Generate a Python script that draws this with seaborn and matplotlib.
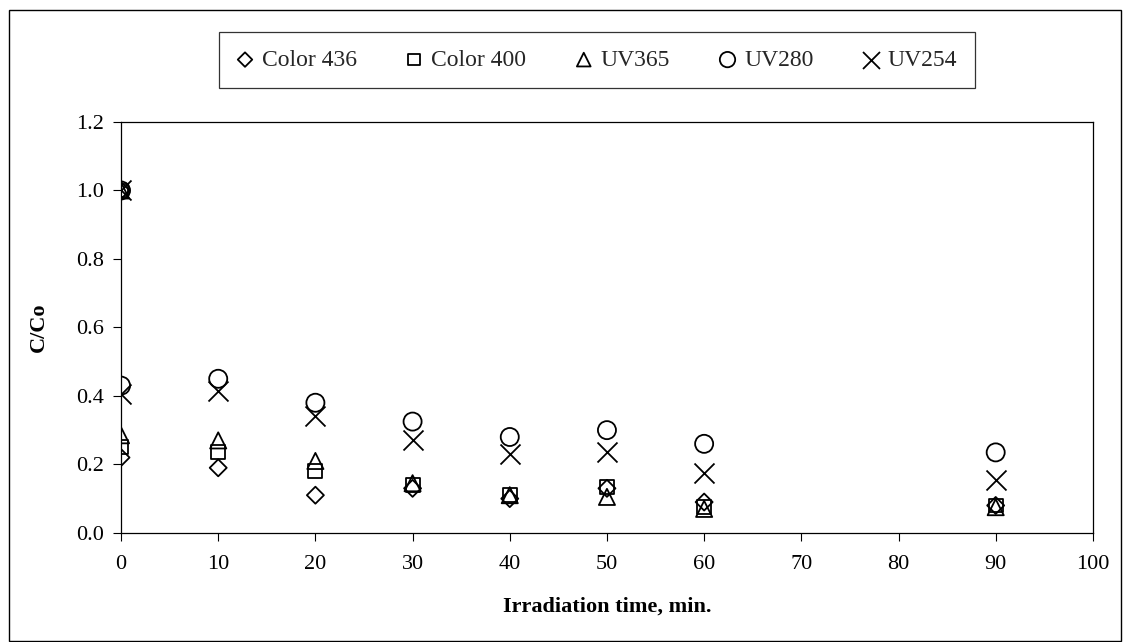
import pandas as pd
import matplotlib
matplotlib.use('Agg')
import matplotlib.pyplot as plt
import seaborn as sns
from matplotlib.patches import Rectangle

# irradiation time (min); the first 0 is the initial sample
time_min = [0, 0, 10, 20, 30, 40, 50, 60, 90]
color_436 = [1.0, 0.22, 0.19, 0.11, 0.13, 0.10, 0.13, 0.09, 0.08]
color_400 = [1.0, 0.25, 0.235, 0.18, 0.14, 0.11, 0.135, 0.075, 0.08]
uv_365 = [1.0, 0.285, 0.27, 0.21, 0.145, 0.11, 0.105, 0.07, 0.075]
uv_280 = [1.0, 0.43, 0.45, 0.38, 0.325, 0.28, 0.30, 0.26, 0.235]
uv_254 = [1.0, 0.405, 0.415, 0.34, 0.27, 0.23, 0.235, 0.175, 0.155]

series_names = ['Color 436', 'Color 400', 'UV365', 'UV280', 'UV254']
series_values = [color_436, color_400, uv_365, uv_280, uv_254]

rows = []
for name, vals in zip(series_names, series_values):
    for t, v in zip(time_min, vals):
        rows.append({'Series': name, 'Time': t, 'C/Co': v})
df = pd.DataFrame(rows)

sns.set_theme(style='white')
plt.rcParams['font.family'] = ['Liberation Serif', 'DejaVu Serif']

fig = plt.figure(figsize=(11.29, 6.42), dpi=100)
ax = fig.add_axes([0.1072, 0.170, 0.8608, 0.640])

marker_style = {
    'Color 436': ('D', 75),
    'Color 400': ('s', 100),
    'UV365': ('^', 135),
    'UV280': ('o', 169),
    'UV254': ('x', 207),
}

for name in series_names:
    sub = df[df['Series'] == name]
    m, s = marker_style[name]
    if m == 'x':
        sns.scatterplot(data=sub, x='Time', y='C/Co', marker=m, s=s,
                        color='black', linewidth=1.3, ax=ax, label=name)
    else:
        sns.scatterplot(data=sub, x='Time', y='C/Co', marker=m, s=s,
                        color='black', facecolor='none', edgecolor='black',
                        linewidth=1.3, ax=ax, label=name)

ax.set_xlim(0, 100)
ax.set_ylim(0, 1.2)
ax.set_xticks(range(0, 101, 10))
ax.set_yticks([0, 0.2, 0.4, 0.6, 0.8, 1.0, 1.2])
ax.set_yticklabels(['%.1f' % v for v in [0, 0.2, 0.4, 0.6, 0.8, 1.0, 1.2]])
ax.tick_params(axis='both', which='both', direction='out', length=6, width=0.8,
               color='black', labelsize=16, labelcolor='black', pad=6)
ax.tick_params(axis='x', pad=10)
ax.tick_params(top=False, right=False, left=True, bottom=True)
for sp in ax.spines.values():
    sp.set_color('black')
    sp.set_linewidth(0.9)

ax.set_xlabel('Irradiation time, min.', fontsize=16, fontweight='bold',
              color='black', labelpad=16)
ax.set_ylabel('C/Co', fontsize=16, fontweight='bold', color='black', labelpad=20)

leg = ax.legend(loc='center', bbox_to_anchor=(0.5288, 0.9065),
                bbox_transform=fig.transFigure, ncol=5, frameon=True,
                fancybox=False, edgecolor='black', fontsize=17,
                handlelength=0.7, handletextpad=0.35, columnspacing=2.1,
                borderpad=0.75, borderaxespad=0, markerscale=0.85)
leg.get_frame().set_linewidth(0.9)

fig.patches.append(Rectangle((9 / 1129, 1 / 642), 1112 / 1129, 631 / 642,
                             transform=fig.transFigure, fill=False,
                             edgecolor='black', linewidth=1.0))

fig.savefig('out.png', dpi=100)
